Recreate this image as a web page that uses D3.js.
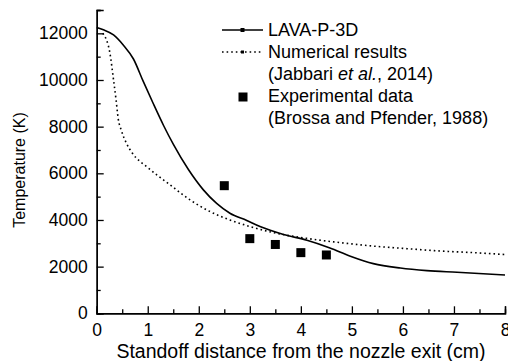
<!DOCTYPE html>
<html><head><meta charset="utf-8">
<script src="https://cdn.jsdelivr.net/npm/d3@7"></script>
<style>
body{margin:0;background:#fff;}
text{font-family:"Liberation Sans",Arial,sans-serif;fill:#000;}
</style></head>
<body><svg id="c" width="508" height="361"></svg>
<script>
const lavaX = [0, 0.13, 0.33, 0.52, 0.72, 0.91, 1.11, 1.31, 1.5, 1.8, 2.09, 2.35, 2.61, 2.94, 3.2, 3.66, 4.12, 4.57, 4.97, 5.42, 5.95, 6.47, 7.06, 8.0];
const lavaY = [12250, 12150, 11930, 11500, 10900, 9950, 8980, 8050, 7250, 6150, 5290, 4710, 4290, 3980, 3720, 3380, 3130, 2800, 2450, 2130, 1940, 1830, 1760, 1640];
const numX = [0.12, 0.26, 0.33, 0.38, 0.42, 0.48, 0.58, 0.7, 1.0, 1.44, 1.83, 2.22, 2.61, 3.0, 3.46, 4.12, 4.77, 5.42, 6.08, 6.73, 7.38, 8.0];
const numY = [12000, 11140, 10000, 9140, 8360, 7860, 7300, 6860, 6250, 5500, 4860, 4360, 4000, 3720, 3460, 3210, 3030, 2880, 2770, 2670, 2600, 2520];
const expX = [2.5, 3.0, 3.5, 4.0, 4.5];
const expY = [5470, 3200, 2950, 2600, 2500];
const xTicks = [0,1,2,3,4,5,6,7,8];
const yTicks = [0,2000,4000,6000,8000,10000,12000];
const xMinor = [0.5,1.5,2.5,3.5,4.5,5.5,6.5,7.5];
const yMinor = [1000,3000,5000,7000,9000,11000,13000];
const xTitle = "Standoff distance from the nozzle exit (cm)";
const yTitle = "Temperature (K)";

const svg = d3.select("#c");
const x = d3.scaleLinear().domain([0,8]).range([96.7,505]);
const y = d3.scaleLinear().domain([0,13000]).range([313.3,10]);

// axes
const gx = svg.append("g").attr("transform",`translate(0,${y(0)})`);
gx.call(d3.axisBottom(x).tickValues(xTicks).tickSize(-7).tickPadding(10).tickFormat(d3.format("d")));
gx.append("g").call(d3.axisBottom(x).tickValues(xMinor).tickSize(-4).tickFormat(""));
const gy = svg.append("g").attr("transform",`translate(${x(0)},0)`);
gy.call(d3.axisLeft(y).tickValues(yTicks).tickSize(-7).tickPadding(9).tickFormat(d3.format("d")));
gy.append("g").call(d3.axisLeft(y).tickValues(yMinor).tickSize(-4).tickFormat(""));
svg.selectAll(".domain").attr("stroke","#000").attr("stroke-width",1.4);
svg.selectAll(".tick line").attr("stroke","#000").attr("stroke-width",1.3);
svg.selectAll(".tick text").attr("fill","#000").style("font-size","17.5px").style("font-family","Liberation Sans, Arial");

// titles
svg.append("text").attr("x",301).attr("y",357.5).attr("text-anchor","middle").attr("fill","#000").style("font-size","19.5px").text(xTitle);
svg.append("text").attr("transform","translate(25,170) rotate(-90)").attr("text-anchor","middle").attr("fill","#000").style("font-size","16px").text(yTitle);

// lines
const lavaData = lavaX.map((d,i)=>[d,lavaY[i]]);
const numData = numX.map((d,i)=>[d,numY[i]]);
const line = d3.line().x(d=>x(d[0])).y(d=>y(d[1])).curve(d3.curveMonotoneX);
svg.append("path").datum(lavaData).attr("d",line).attr("fill","none").attr("stroke","#000").attr("stroke-width",1.6);
svg.append("path").datum(numData).attr("d",line).attr("fill","none").attr("stroke","#000").attr("stroke-width",1.6).attr("stroke-dasharray","1.6,3");

// exp squares
const sq = 9;
svg.selectAll("rect.exp").data(expX.map((d,i)=>[d,expY[i]])).enter().append("rect")
  .attr("class","exp").attr("x",d=>x(d[0])-sq/2).attr("y",d=>y(d[1])-sq/2).attr("width",sq).attr("height",sq).attr("fill","#000");

// legend
const lg = svg.append("g");
lg.append("line").attr("x1",222).attr("x2",263).attr("y1",30).attr("y2",30).attr("stroke","#000").attr("stroke-width",1.6);
lg.append("rect").attr("x",240.5).attr("y",28).attr("width",4).attr("height",4).attr("fill","#000");
lg.append("text").attr("x",268).attr("y",35.5).attr("fill","#000").style("font-size","18px").text("LAVA-P-3D");
lg.append("line").attr("x1",222).attr("x2",263).attr("y1",52).attr("y2",52).attr("stroke","#000").attr("stroke-width",1.6).attr("stroke-dasharray","1.6,3");
lg.append("rect").attr("x",241).attr("y",50.5).attr("width",3).attr("height",3).attr("fill","#000");
lg.append("text").attr("x",268).attr("y",57.5).attr("fill","#000").style("font-size","18px").text("Numerical results");
const t3 = lg.append("text").attr("x",268).attr("y",79.5).attr("fill","#000").style("font-size","18px");
t3.append("tspan").text("(Jabbari ");
t3.append("tspan").style("font-style","italic").text("et al.");
t3.append("tspan").text(", 2014)");
lg.append("rect").attr("x",238.5).attr("y",92.5).attr("width",9).attr("height",9).attr("fill","#000");
lg.append("text").attr("x",268).attr("y",101.5).attr("fill","#000").style("font-size","18px").text("Experimental data");
lg.append("text").attr("x",268).attr("y",123.5).attr("fill","#000").style("font-size","18px").text("(Brossa and Pfender, 1988)");
</script></body></html>
